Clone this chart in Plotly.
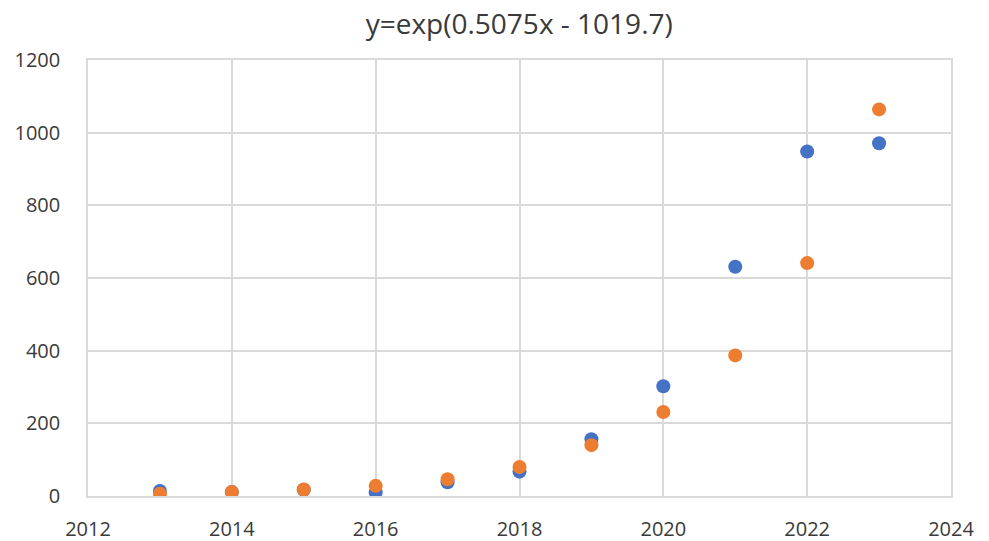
import plotly.graph_objects as go

# Yearly observations and the fitted exponential curve values
years = [2013, 2014, 2015, 2016, 2017, 2018, 2019, 2020, 2021, 2022, 2023]
observed = [14, 11, 17, 10, 38, 67, 156, 302, 631, 948, 971]
fitted = [6, 11, 18, 28, 46, 80, 140, 231, 387, 641, 1064]

title_text = "y=exp(0.5075x - 1019.7)"
x_ticks = [2012, 2014, 2016, 2018, 2020, 2022, 2024]
y_ticks = [0, 200, 400, 600, 800, 1000, 1200]

font_family = "Open Sans, Noto Sans, sans-serif"
text_color = "#3a3a3a"
grid_color = "#d9d9d9"

fig = go.Figure()
fig.add_trace(go.Scatter(
    x=years, y=observed, mode="markers",
    marker=dict(color="#4472C4", size=14, line=dict(width=0)),
    showlegend=False,
))
fig.add_trace(go.Scatter(
    x=years, y=fitted, mode="markers",
    marker=dict(color="#ED7D31", size=14, line=dict(width=0)),
    showlegend=False,
))

fig.update_layout(
    width=989, height=541,
    margin=dict(l=88, r=38, t=60, b=45, autoexpand=False),
    paper_bgcolor="white", plot_bgcolor="white",
    font=dict(family=font_family, color=text_color, size=20),
    title=dict(text=title_text, x=0.525, xanchor="center", y=1 - 24 / 541,
               yanchor="middle", font=dict(size=28, color=text_color)),
)
fig.update_xaxes(
    range=[2012, 2024], tickvals=x_ticks, ticktext=[str(v) for v in x_ticks],
    showgrid=True, gridcolor=grid_color, gridwidth=1.5,
    showline=True, linecolor=grid_color, linewidth=1.5, mirror=True,
    zeroline=False, ticks="outside", ticklen=14, tickcolor="rgba(0,0,0,0)",
    automargin=False,
)
fig.update_yaxes(
    range=[0, 1200], tickvals=y_ticks, ticktext=[str(v) for v in y_ticks],
    showgrid=True, gridcolor=grid_color, gridwidth=1.5,
    showline=True, linecolor=grid_color, linewidth=1.5, mirror=True,
    zeroline=False, ticks="outside", ticklen=22, tickcolor="rgba(0,0,0,0)",
    automargin=False,
)

fig.write_html("out.html")
